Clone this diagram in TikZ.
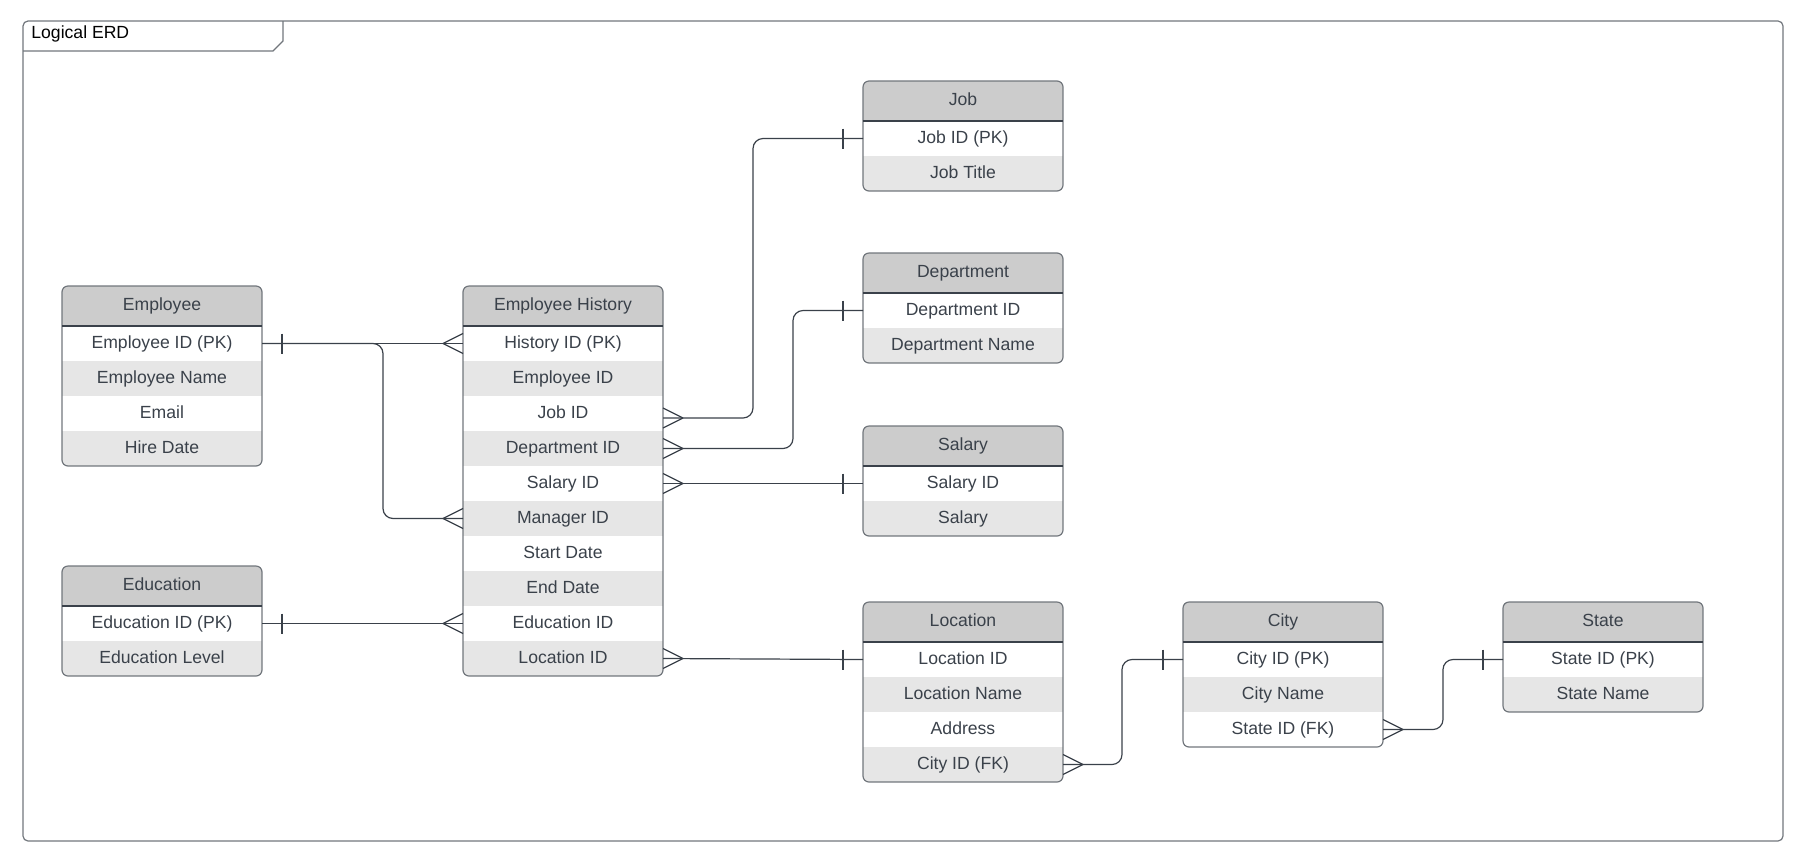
\documentclass[tikz,border=0pt]{standalone}
\usepackage{fontspec}
\setmainfont{Liberation Sans}
\usepackage{tikz}
\usetikzlibrary{calc,backgrounds}

\definecolor{headgray}{HTML}{CCCCCC}
\definecolor{rowgray}{HTML}{E6E6E6}
\definecolor{edgegray}{HTML}{71767C}
\definecolor{ink}{HTML}{3A414A}

\tikzset{
  enthead/.style={anchor=north west,minimum width=100pt,minimum height=20pt,
    inner sep=0pt,outer sep=0pt,text=ink,font=\fontsize{8.8}{10}\selectfont,
    text height=6.4pt,text depth=1.8pt},
  entrow/.style={anchor=north,minimum width=100pt,minimum height=17.5pt,
    inner sep=0pt,outer sep=0pt,text=ink,font=\fontsize{8.8}{10}\selectfont,
    text height=6.4pt,text depth=1.8pt},
  entline/.style={draw=edgegray,line width=0.6pt,rounded corners=3pt},
  sepline/.style={draw=ink,line width=0.6pt},
  relline/.style={draw=ink,line width=0.6pt},
  bentline/.style={relline,rounded corners=5pt}
}

% \entity{name}{title}{top left}{rows}
\newcommand{\entity}[4]{
  \node[enthead] (#1) at (#3) {#2};
  \foreach \t [count=\i] in {#4} {
    \pgfmathtruncatemacro\j{\i-1}
    \ifnum\i=1 \def\prev{#1}\else\def\prev{#1-\j}\fi
    \node[entrow] (#1-\i) at (\prev.south) {\t};
    \xdef\nrows{\i}
  }
  \begin{scope}[on background layer]
    \begin{scope}
      \clip[rounded corners=3pt] (#1.north west) rectangle (#1-\nrows.south east);
      \fill[headgray] (#1.north west) rectangle (#1.south east);
      \foreach \i in {1,...,\nrows} {
        \ifodd\i\else
          \fill[rowgray] (#1-\i.north west) rectangle (#1-\i.south east);
        \fi
      }
    \end{scope}
  \end{scope}
  \draw[entline] (#1.north west) rectangle (#1-\nrows.south east);
  \draw[sepline] (#1.south west) -- (#1.south east);
}

% \crowfoot{anchor}{+1 east, -1 west}
\newcommand{\crowfoot}[2]{
  \draw[relline] ($(#1)+(#2*20,0)$) -- ($(#1)+(0,-10)$)
    ($(#1)+(#2*20,0)$) -- ($(#1)+(0,10)$);
}
\newcommand{\onebar}[2]{
  \draw[relline] ($(#1)+(#2*20,-10)$) -- ($(#1)+(#2*20,10)$);
}

\begin{document}
\begin{tikzpicture}[x=0.5pt,y=-0.5pt]
\useasboundingbox (0,0) rectangle (1814,858);

\draw[edgegray,line width=0.6pt,rounded corners=2.5pt] (23,21) rectangle (1783,841);
\draw[edgegray,line width=0.6pt] (23,51) -- (273,51) -- (283,41) -- (283,21);
\node[anchor=west,inner sep=0pt,font=\fontsize{8.8}{10}\selectfont] (title) at (31,34) {Logical ERD};

\entity{emp}{Employee}{62,286}{Employee ID (PK),Employee Name,Email,Hire Date}
\entity{hist}{Employee History}{463,286}{History ID (PK),Employee ID,Job ID,Department ID,Salary ID,Manager ID,Start Date,End Date,Education ID,Location ID}
\entity{edu}{Education}{62,566}{Education ID (PK),Education Level}
\entity{job}{Job}{863,81}{Job ID (PK),Job Title}
\entity{dept}{Department}{863,253}{Department ID,Department Name}
\entity{sal}{Salary}{863,426}{Salary ID,Salary}
\entity{loc}{Location}{863,602}{Location ID,Location Name,Address,City ID (FK)}
\entity{city}{City}{1183,602}{City ID (PK),City Name,State ID (FK)}
\entity{state}{State}{1503,602}{State ID (PK),State Name}

\coordinate (jobfk) at ([yshift=-2.25pt]hist-3.east);

\draw[relline] (emp-1.east) -- (hist-1.west);
\draw[bentline] (emp-1.east) -- ++(121,0) |- (hist-6.west);
\onebar{emp-1.east}{1}
\crowfoot{hist-1.west}{-1}
\crowfoot{hist-6.west}{-1}

\draw[relline] (edu-1.east) -- (hist-9.west);
\onebar{edu-1.east}{1}
\crowfoot{hist-9.west}{-1}

\draw[bentline] (jobfk) -- ++(90,0) |- (job-1.west);
\crowfoot{jobfk}{1}
\onebar{job-1.west}{-1}

\draw[bentline] (hist-4.east) -- ++(130,0) |- (dept-1.west);
\crowfoot{hist-4.east}{1}
\onebar{dept-1.west}{-1}

\draw[relline] (hist-5.east) -- (sal-1.west);
\crowfoot{hist-5.east}{1}
\onebar{sal-1.west}{-1}

\draw[relline] (hist-10.east) -- (loc-1.west);
\crowfoot{hist-10.east}{1}
\onebar{loc-1.west}{-1}

\draw[bentline] (loc-4.east) -- ++(59,0) |- (city-1.west);
\crowfoot{loc-4.east}{1}
\onebar{city-1.west}{-1}

\draw[bentline] (city-3.east) -- ++(60,0) |- (state-1.west);
\crowfoot{city-3.east}{1}
\onebar{state-1.west}{-1}
\end{tikzpicture}
\end{document}
